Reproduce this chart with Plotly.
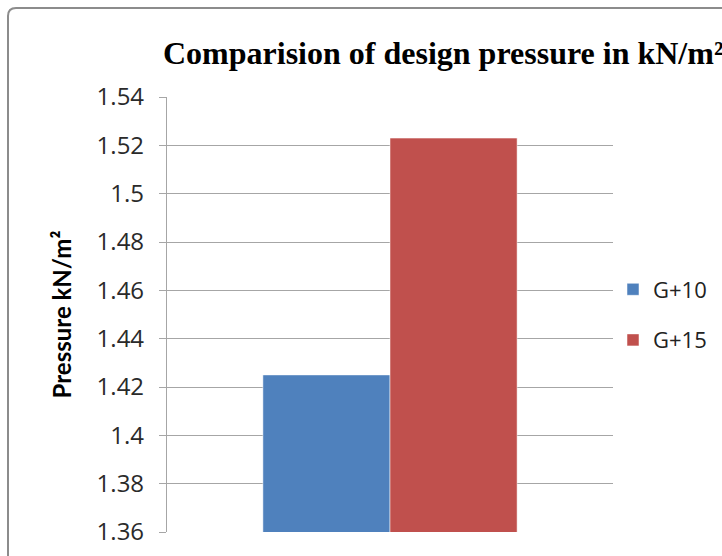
import plotly.graph_objects as go

# Design pressure values (kN/m²)
series_names = ["G+10", "G+15"]
pressure_values = [1.425, 1.523]
series_colors = ["#4F81BD", "#C0504D"]
category = ["Design pressure"]

tick_values = [1.36, 1.38, 1.40, 1.42, 1.44, 1.46, 1.48, 1.50, 1.52, 1.54]
tick_labels = [f"{v:g}" for v in tick_values]

W, H = 722, 556
L, R, T, B = 167, 20, 97, 24
PLOT_RIGHT = 613               # right edge of the plotting area, px
paper_w = W - L - R
plot_h = H - T - B

fig = go.Figure()
for name, val, col in zip(series_names, pressure_values, series_colors):
    fig.add_trace(go.Bar(
        x=category, y=[val], name=name, legendgroup=name,
        marker=dict(color=col, line=dict(color="rgba(255,255,255,0.5)", width=1)),
    ))

# pixel -> paper coordinate helpers
def px_x(x):
    return (x - L) / paper_w

def px_y(y):
    return (H - B - y) / plot_h

# chart frame with rounded top-left corner
x0, y0 = px_x(8), px_y(8)
rx, ry = 8 / paper_w, 8 / plot_h
frame = (f"M {x0},{px_y(600)} L {x0},{y0 - ry} "
         f"Q {x0},{y0} {x0 + rx},{y0} L {px_x(800)},{y0}")

fig.update_layout(
    width=W, height=H,
    margin=dict(l=L, r=R, t=T, b=B, pad=0, autoexpand=False),
    paper_bgcolor="white", plot_bgcolor="white",
    barmode="group", bargap=0.43, bargroupgap=0,
    showlegend=True,
    legend=dict(
        x=px_x(613), y=px_y(315), xanchor="left", yanchor="middle",
        font=dict(family="Open Sans", size=22, color="#222"),
        itemwidth=30, tracegroupgap=19,
        bgcolor="rgba(0,0,0,0)",
    ),
    title=dict(
        text="<b>Comparision of design pressure in kN/m²</b>",
        x=163 / W, xref="container", xanchor="left",
        y=1 - 53 / H, yref="container", yanchor="middle",
        font=dict(family="Liberation Serif", size=32, color="#000"),
    ),
    xaxis=dict(
        domain=[0, px_x(PLOT_RIGHT)],
        range=[-0.5, 0.5], showticklabels=False, showgrid=False,
        zeroline=False, showline=False, ticks="",
    ),
    yaxis=dict(
        range=[1.36, 1.54], tickvals=tick_values, ticktext=tick_labels,
        showgrid=True, gridcolor="#a6a6a6", gridwidth=1.2,
        showline=True, linecolor="#a6a6a6", linewidth=1.2,
        ticks="outside", ticklen=7, tickcolor="#a6a6a6", tickwidth=1.2,
        ticklabelstandoff=10,
        zeroline=False,
        tickfont=dict(family="Open Sans", size=24, color="#2a2a2a"),
        title=dict(
            text="<b>Pressure kN/m²</b>",
            font=dict(family="Lato", size=24, color="#000"),
            standoff=18,
        ),
    ),
    shapes=[dict(type="path", path=frame, xref="paper", yref="paper",
                 line=dict(color="#8c8c8c", width=2), layer="above")],
)

fig.write_html("out.html")
